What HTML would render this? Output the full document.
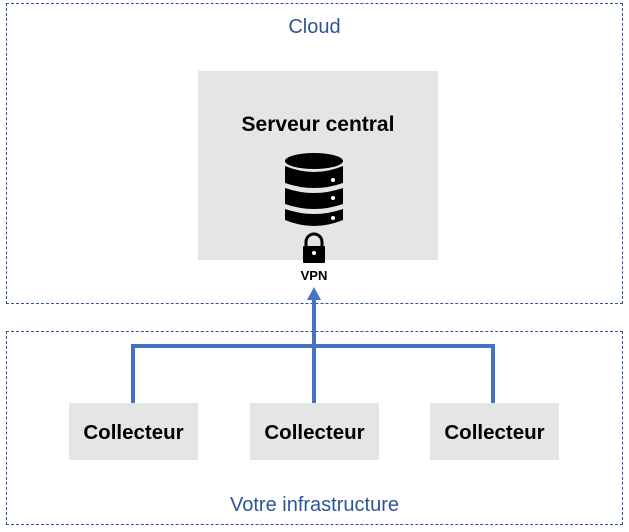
<!DOCTYPE html>
<html><head><meta charset="utf-8"><style>
body{margin:0;width:629px;height:532px;background:#fff;position:relative;font-family:"Liberation Sans",sans-serif;overflow:hidden}
.box{position:absolute;border:1px dashed #2f5597}
.g{position:absolute;background:#e5e5e5}
.c{position:absolute;background:#e5e5e5;font-weight:bold;font-size:20.5px;display:flex;align-items:center;justify-content:center;padding-top:2px;box-sizing:border-box}
</style></head><body>
<div class="box" style="left:6px;top:3px;width:615px;height:299px"></div>
<div class="box" style="left:6px;top:331px;width:615px;height:192px"></div>
<div style="position:absolute;left:0;width:629px;top:16px;text-align:center;color:#2f5597;font-size:20px">Cloud</div>
<div style="position:absolute;left:0;width:629px;top:494px;text-align:center;color:#2f5597;font-size:20px">Votre infrastructure</div>
<div class="g" style="left:198px;top:71px;width:240px;height:189px"></div>
<div style="position:absolute;left:198px;width:240px;top:113px;text-align:center;font-weight:bold;font-size:21px">Serveur central</div>
<svg width="629" height="532" style="position:absolute;left:0;top:0">
<g fill="#000">
<ellipse cx="314" cy="161" rx="29" ry="8"/>
<path d="M285 166 Q314 178 343 166 V183 Q314 193 285 183Z"/>
<path d="M285 188 Q314 198 343 188 V204 Q314 214 285 204Z"/>
<path d="M285 209 Q314 219 343 209 V220 Q314 232 285 220Z"/>
<rect x="303" y="246" width="22" height="17" rx="1"/>
<path d="M306 247 V242 A8 8 0 0 1 322 242 V247" fill="none" stroke="#000" stroke-width="3"/>
</g>
<g fill="#fff"><circle cx="333" cy="180" r="2"/><circle cx="333" cy="198" r="2"/><circle cx="333" cy="218" r="2"/><circle cx="314" cy="253" r="2"/></g>
<text x="314" y="280" text-anchor="middle" font-family="Liberation Sans" font-weight="bold" font-size="13">VPN</text>
<g stroke="#4472c4" stroke-width="4" fill="none">
<path d="M133 403 V346 H493 V403"/>
<path d="M314 403 V300"/>
</g>
<path d="M314 287 L307 300 L321 300Z" fill="#4472c4"/>
</svg>
<div class="c" style="left:69px;top:403px;width:129px;height:57px">Collecteur</div>
<div class="c" style="left:250px;top:403px;width:129px;height:57px">Collecteur</div>
<div class="c" style="left:430px;top:403px;width:129px;height:57px">Collecteur</div>
</body></html>
